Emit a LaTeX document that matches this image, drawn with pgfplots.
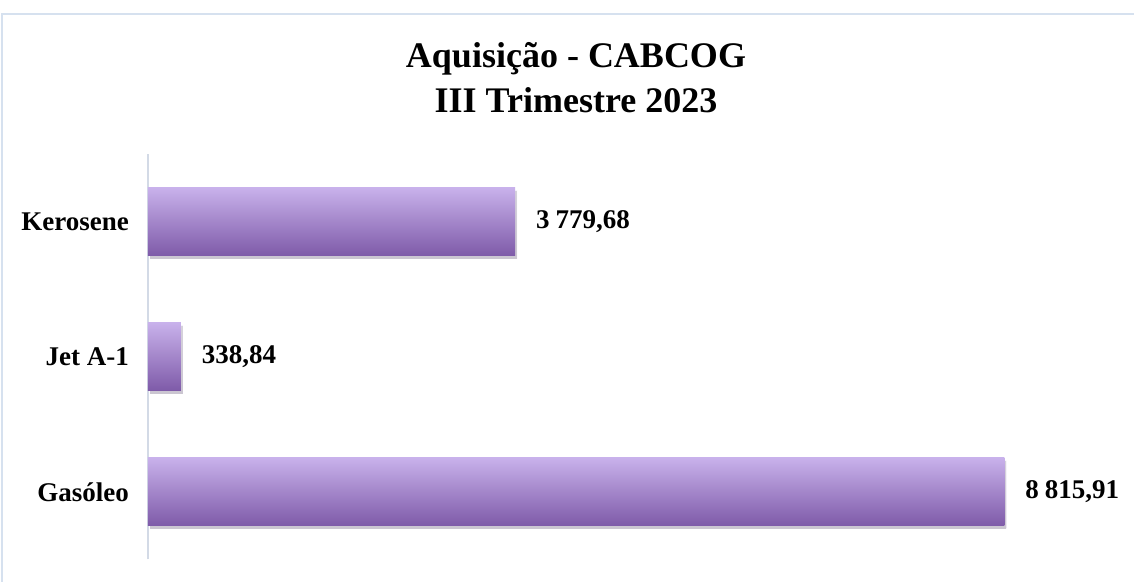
\documentclass[border=0pt]{standalone}
\usepackage{fontspec}
\setmainfont{Liberation Serif}
\usepackage{pgfplots}
\pgfplotsset{compat=1.18}
\usetikzlibrary{shadows}
\definecolor{bartop}{HTML}{C8B1EB}
\definecolor{barbot}{HTML}{7E5AA8}
\definecolor{frameblue}{HTML}{D6E1EF}
\definecolor{axl}{HTML}{D3DAE6}
\begin{document}
\begin{tikzpicture}
\useasboundingbox (0pt,0pt) rectangle (567pt,291pt);
\begin{scope}
\clip (0pt,0pt) rectangle (567pt,291pt);
\fill[white] (0pt,0pt) rectangle (567pt,291pt);
\draw[frameblue, line width=0.8pt] (1pt,-10pt) rectangle (580pt,284pt);
\node[anchor=base, font=\bfseries\fontsize{18}{22}\selectfont] at (288pt,257pt) {Aquisição - CABCOG};
\node[anchor=base, font=\bfseries\fontsize{18}{22}\selectfont] at (288pt,234.5pt) {III Trimestre 2023};
\begin{axis}[
  at={(74pt,45pt)}, anchor=origin, scale only axis,
  width=476pt, height=202.5pt,
  xmin=0, xmax=9800, ymin=-0.5, ymax=2.5,
  axis x line=none, axis y line*=left,
  y axis line style={axl, line width=0.75pt, -},
  ytick={0,1,2}, yticklabels={Gasóleo,Jet A-1,Kerosene},
  major tick length=0pt,
  yticklabel style={font=\bfseries\fontsize{13.5}{15}\selectfont, xshift=-6pt},
  xbar, bar width=34pt, bar shift=0pt,
  nodes near coords,
  every node near coord/.append style={font=\bfseries\fontsize{13.5}{15}\selectfont, anchor=west, xshift=7pt},
  /pgf/number format/fixed,
  /pgf/number format/fixed zerofill,
  /pgf/number format/precision=2,
  /pgf/number format/use comma,
  /pgf/number format/1000 sep={\hspace{0.22em}},
  /pgf/number format/assume math mode=true,
]
\addplot[draw=none, top color=bartop, bottom color=barbot, drop shadow={shadow xshift=1pt, shadow yshift=-1.5pt, fill=black, opacity=0.15}] coordinates {(8815.91,0)};
\addplot[draw=none, top color=bartop, bottom color=barbot, drop shadow={shadow xshift=1pt, shadow yshift=-1.5pt, fill=black, opacity=0.15}] coordinates {(338.84,1)};
\addplot[draw=none, top color=bartop, bottom color=barbot, drop shadow={shadow xshift=1pt, shadow yshift=-1.5pt, fill=black, opacity=0.15}] coordinates {(3779.68,2)};
\end{axis}
\end{scope}
\end{tikzpicture}
\end{document}
